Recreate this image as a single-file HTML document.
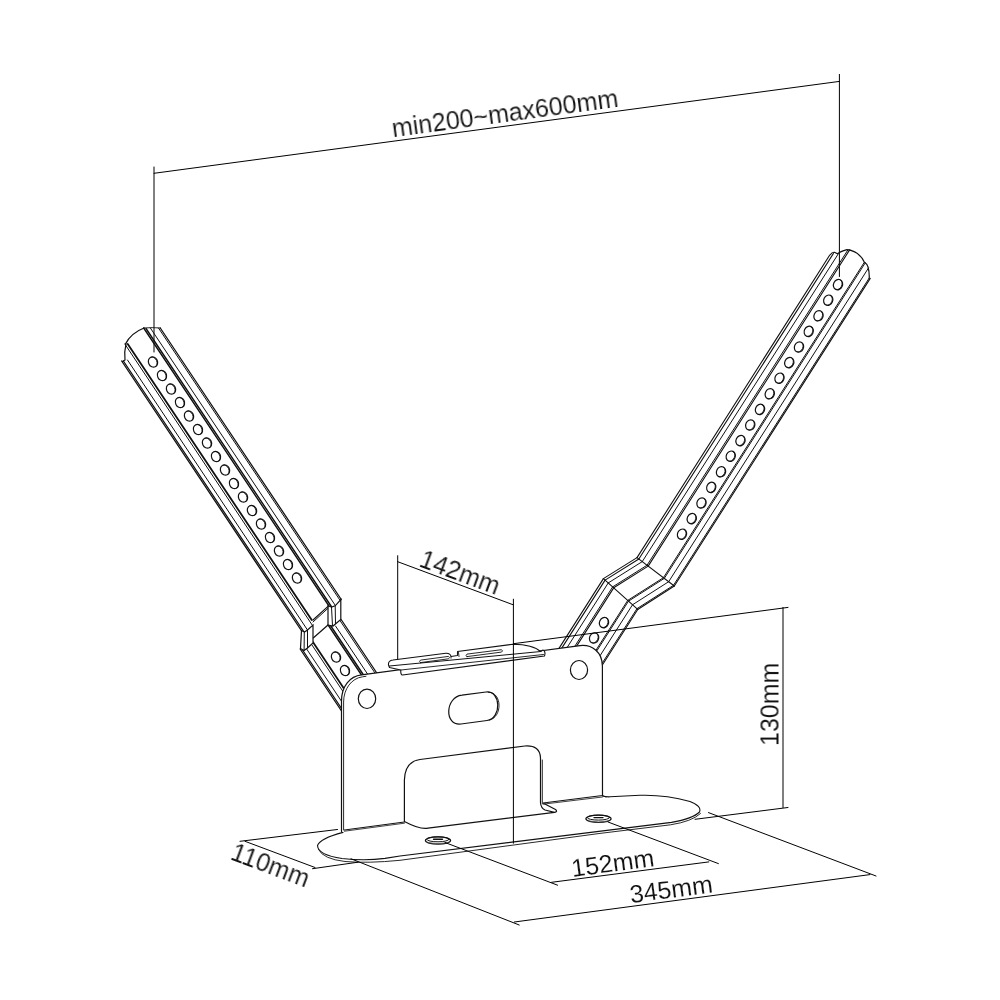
<!DOCTYPE html>
<html><head><meta charset="utf-8"><style>
html,body{margin:0;padding:0;background:#fff;width:1000px;height:1000px;overflow:hidden}
svg{position:absolute;left:0;top:0}
text{font-family:"Liberation Sans",sans-serif;fill:#111;stroke:#fff;stroke-width:0.12px}
</style></head><body>
<svg width="1000" height="1000" viewBox="0 0 1000 1000" stroke-linecap="round">
<line x1="154.00" y1="167.00" x2="154.00" y2="352.00" stroke="#000" stroke-width="1.0"/>
<line x1="154.00" y1="173.30" x2="839.40" y2="81.40" stroke="#000" stroke-width="1.0"/>
<line x1="839.40" y1="74.40" x2="839.40" y2="276.50" stroke="#000" stroke-width="1.0"/>
<line x1="121.67" y1="361.00" x2="301.33" y2="630.50" stroke="#111" stroke-width="1.3"/>
<line x1="123.37" y1="361.00" x2="303.37" y2="631.00" stroke="#111" stroke-width="1.3"/>
<line x1="127.50" y1="360.00" x2="307.50" y2="630.00" stroke="#111" stroke-width="1.0"/>
<line x1="124.83" y1="344.00" x2="312.17" y2="625.00" stroke="#111" stroke-width="1.0"/>
<line x1="127.73" y1="344.00" x2="311.73" y2="620.00" stroke="#111" stroke-width="1.8"/>
<line x1="143.67" y1="328.00" x2="329.00" y2="606.00" stroke="#111" stroke-width="1.4"/>
<line x1="146.00" y1="328.50" x2="331.33" y2="606.50" stroke="#111" stroke-width="1.4"/>
<line x1="150.37" y1="328.00" x2="335.43" y2="605.60" stroke="#111" stroke-width="1.0"/>
<line x1="158.47" y1="328.00" x2="339.80" y2="600.00" stroke="#111" stroke-width="1.0"/>
<line x1="160.27" y1="328.00" x2="341.27" y2="599.50" stroke="#111" stroke-width="1.3"/>
<path d="M125.5,344 Q131,333 144,328" fill="none" stroke="#111" stroke-width="1.3"/><path d="M144,328 Q152,327.2 160.5,328" fill="none" stroke="#111" stroke-width="0.9"/>
<path d="M126,344 Q124,352 125,360 L122.5,361.5" fill="none" stroke="#111" stroke-width="1.2"/>
<g transform="translate(153.00,362.00) rotate(-25)"><ellipse rx="4.5" ry="5.3" fill="none" stroke="#111" stroke-width="1.2"/><path d="M0.3,-5.2 A3.5,5.2 0 0 1 0.3,5.2" fill="none" stroke="#111" stroke-width="0.8"/></g>
<g transform="translate(162.00,375.50) rotate(-25)"><ellipse rx="4.5" ry="5.3" fill="none" stroke="#111" stroke-width="1.2"/><path d="M0.3,-5.2 A3.5,5.2 0 0 1 0.3,5.2" fill="none" stroke="#111" stroke-width="0.8"/></g>
<g transform="translate(171.00,389.00) rotate(-25)"><ellipse rx="4.5" ry="5.3" fill="none" stroke="#111" stroke-width="1.2"/><path d="M0.3,-5.2 A3.5,5.2 0 0 1 0.3,5.2" fill="none" stroke="#111" stroke-width="0.8"/></g>
<g transform="translate(180.00,402.50) rotate(-25)"><ellipse rx="4.5" ry="5.3" fill="none" stroke="#111" stroke-width="1.2"/><path d="M0.3,-5.2 A3.5,5.2 0 0 1 0.3,5.2" fill="none" stroke="#111" stroke-width="0.8"/></g>
<g transform="translate(189.00,416.00) rotate(-25)"><ellipse rx="4.5" ry="5.3" fill="none" stroke="#111" stroke-width="1.2"/><path d="M0.3,-5.2 A3.5,5.2 0 0 1 0.3,5.2" fill="none" stroke="#111" stroke-width="0.8"/></g>
<g transform="translate(198.00,429.50) rotate(-25)"><ellipse rx="4.5" ry="5.3" fill="none" stroke="#111" stroke-width="1.2"/><path d="M0.3,-5.2 A3.5,5.2 0 0 1 0.3,5.2" fill="none" stroke="#111" stroke-width="0.8"/></g>
<g transform="translate(207.00,443.00) rotate(-25)"><ellipse rx="4.5" ry="5.3" fill="none" stroke="#111" stroke-width="1.2"/><path d="M0.3,-5.2 A3.5,5.2 0 0 1 0.3,5.2" fill="none" stroke="#111" stroke-width="0.8"/></g>
<g transform="translate(216.00,456.50) rotate(-25)"><ellipse rx="4.5" ry="5.3" fill="none" stroke="#111" stroke-width="1.2"/><path d="M0.3,-5.2 A3.5,5.2 0 0 1 0.3,5.2" fill="none" stroke="#111" stroke-width="0.8"/></g>
<g transform="translate(225.00,470.00) rotate(-25)"><ellipse rx="4.5" ry="5.3" fill="none" stroke="#111" stroke-width="1.2"/><path d="M0.3,-5.2 A3.5,5.2 0 0 1 0.3,5.2" fill="none" stroke="#111" stroke-width="0.8"/></g>
<g transform="translate(234.00,483.50) rotate(-25)"><ellipse rx="4.5" ry="5.3" fill="none" stroke="#111" stroke-width="1.2"/><path d="M0.3,-5.2 A3.5,5.2 0 0 1 0.3,5.2" fill="none" stroke="#111" stroke-width="0.8"/></g>
<g transform="translate(243.00,497.00) rotate(-25)"><ellipse rx="4.5" ry="5.3" fill="none" stroke="#111" stroke-width="1.2"/><path d="M0.3,-5.2 A3.5,5.2 0 0 1 0.3,5.2" fill="none" stroke="#111" stroke-width="0.8"/></g>
<g transform="translate(252.00,510.50) rotate(-25)"><ellipse rx="4.5" ry="5.3" fill="none" stroke="#111" stroke-width="1.2"/><path d="M0.3,-5.2 A3.5,5.2 0 0 1 0.3,5.2" fill="none" stroke="#111" stroke-width="0.8"/></g>
<g transform="translate(261.00,524.00) rotate(-25)"><ellipse rx="4.5" ry="5.3" fill="none" stroke="#111" stroke-width="1.2"/><path d="M0.3,-5.2 A3.5,5.2 0 0 1 0.3,5.2" fill="none" stroke="#111" stroke-width="0.8"/></g>
<g transform="translate(270.00,537.50) rotate(-25)"><ellipse rx="4.5" ry="5.3" fill="none" stroke="#111" stroke-width="1.2"/><path d="M0.3,-5.2 A3.5,5.2 0 0 1 0.3,5.2" fill="none" stroke="#111" stroke-width="0.8"/></g>
<g transform="translate(279.00,551.00) rotate(-25)"><ellipse rx="4.5" ry="5.3" fill="none" stroke="#111" stroke-width="1.2"/><path d="M0.3,-5.2 A3.5,5.2 0 0 1 0.3,5.2" fill="none" stroke="#111" stroke-width="0.8"/></g>
<g transform="translate(288.00,564.50) rotate(-25)"><ellipse rx="4.5" ry="5.3" fill="none" stroke="#111" stroke-width="1.2"/><path d="M0.3,-5.2 A3.5,5.2 0 0 1 0.3,5.2" fill="none" stroke="#111" stroke-width="0.8"/></g>
<g transform="translate(297.00,578.00) rotate(-25)"><ellipse rx="4.5" ry="5.3" fill="none" stroke="#111" stroke-width="1.2"/><path d="M0.3,-5.2 A3.5,5.2 0 0 1 0.3,5.2" fill="none" stroke="#111" stroke-width="0.8"/></g>
<line x1="300.17" y1="649.00" x2="347.50" y2="720.00" stroke="#111" stroke-width="1.3"/>
<line x1="302.20" y1="649.50" x2="349.20" y2="720.00" stroke="#111" stroke-width="1.3"/>
<line x1="306.67" y1="649.00" x2="354.00" y2="720.00" stroke="#111" stroke-width="1.0"/>
<line x1="312.00" y1="645.00" x2="362.00" y2="720.00" stroke="#111" stroke-width="1.0"/>
<line x1="312.90" y1="642.00" x2="364.90" y2="720.00" stroke="#111" stroke-width="1.8"/>
<line x1="328.17" y1="625.00" x2="391.50" y2="720.00" stroke="#111" stroke-width="1.4"/>
<line x1="330.50" y1="625.50" x2="393.50" y2="720.00" stroke="#111" stroke-width="1.4"/>
<line x1="335.53" y1="626.00" x2="398.20" y2="720.00" stroke="#111" stroke-width="1.0"/>
<line x1="339.63" y1="620.00" x2="406.30" y2="720.00" stroke="#111" stroke-width="1.0"/>
<line x1="341.10" y1="619.50" x2="408.10" y2="720.00" stroke="#111" stroke-width="1.3"/>
<g transform="translate(336.00,657.00) rotate(-25)"><ellipse rx="4.5" ry="5.3" fill="none" stroke="#111" stroke-width="1.2"/><path d="M0.3,-5.2 A3.5,5.2 0 0 1 0.3,5.2" fill="none" stroke="#111" stroke-width="0.8"/></g>
<g transform="translate(345.00,670.50) rotate(-25)"><ellipse rx="4.5" ry="5.3" fill="none" stroke="#111" stroke-width="1.2"/><path d="M0.3,-5.2 A3.5,5.2 0 0 1 0.3,5.2" fill="none" stroke="#111" stroke-width="0.8"/></g>
<path d="M301.5,630.5 L304.5,632 L307.5,630 L313,625 L313,643 L307.5,648 L304,650.5 L300.5,648.5 Z" fill="#fff" stroke="#111" stroke-width="1.2"/>
<line x1="304.30" y1="632.00" x2="304.10" y2="650.30" stroke="#111" stroke-width="1.0"/>
<line x1="307.50" y1="630.00" x2="307.50" y2="648.00" stroke="#111" stroke-width="1.0"/>
<path d="M328,605.8 L331.5,607 L335.2,605.8 L340.8,599.5 L340.8,619.5 L333,626 L328,625 Z" fill="#fff" stroke="#111" stroke-width="1.2"/>
<line x1="331.50" y1="607.00" x2="332.50" y2="625.80" stroke="#111" stroke-width="1.0"/>
<line x1="335.20" y1="605.80" x2="335.50" y2="623.50" stroke="#111" stroke-width="1.0"/>
<line x1="313.00" y1="620.00" x2="328.00" y2="606.40" stroke="#111" stroke-width="1.2"/>
<line x1="313.00" y1="622.00" x2="328.00" y2="608.30" stroke="#111" stroke-width="1.0"/>
<line x1="313.50" y1="637.80" x2="328.00" y2="625.00" stroke="#111" stroke-width="1.2"/>
<line x1="829.76" y1="255.00" x2="637.02" y2="557.60" stroke="#111" stroke-width="1.1"/>
<line x1="637.02" y1="557.60" x2="603.42" y2="578.60" stroke="#111" stroke-width="1.1"/>
<line x1="603.42" y1="578.60" x2="552.46" y2="658.60" stroke="#111" stroke-width="1.1"/>
<line x1="833.41" y1="253.50" x2="638.84" y2="558.98" stroke="#111" stroke-width="1.1"/>
<line x1="638.84" y1="558.98" x2="605.09" y2="580.10" stroke="#111" stroke-width="1.1"/>
<line x1="605.09" y1="580.10" x2="554.13" y2="660.10" stroke="#111" stroke-width="1.1"/>
<line x1="838.32" y1="253.80" x2="642.27" y2="561.60" stroke="#111" stroke-width="1.0"/>
<line x1="642.27" y1="561.60" x2="608.25" y2="582.94" stroke="#111" stroke-width="1.0"/>
<line x1="608.25" y1="582.94" x2="557.29" y2="662.94" stroke="#111" stroke-width="1.0"/>
<line x1="847.97" y1="249.80" x2="647.05" y2="565.25" stroke="#111" stroke-width="1.0"/>
<line x1="647.05" y1="565.25" x2="612.64" y2="586.89" stroke="#111" stroke-width="1.0"/>
<line x1="612.64" y1="586.89" x2="561.69" y2="666.89" stroke="#111" stroke-width="1.0"/>
<line x1="849.80" y1="249.60" x2="648.19" y2="566.12" stroke="#111" stroke-width="1.1"/>
<line x1="648.19" y1="566.12" x2="613.69" y2="587.84" stroke="#111" stroke-width="1.1"/>
<line x1="613.69" y1="587.84" x2="562.74" y2="667.84" stroke="#111" stroke-width="1.1"/>
<line x1="864.18" y1="262.50" x2="663.40" y2="577.72" stroke="#111" stroke-width="1.0"/>
<line x1="663.40" y1="577.72" x2="627.68" y2="600.42" stroke="#111" stroke-width="1.0"/>
<line x1="627.68" y1="600.42" x2="576.73" y2="680.42" stroke="#111" stroke-width="1.0"/>
<line x1="865.29" y1="262.80" x2="664.28" y2="578.39" stroke="#111" stroke-width="1.0"/>
<line x1="664.28" y1="578.39" x2="628.49" y2="601.14" stroke="#111" stroke-width="1.0"/>
<line x1="628.49" y1="601.14" x2="577.53" y2="681.14" stroke="#111" stroke-width="1.0"/>
<line x1="868.48" y1="268.00" x2="668.65" y2="581.72" stroke="#111" stroke-width="1.0"/>
<line x1="668.65" y1="581.72" x2="632.51" y2="604.76" stroke="#111" stroke-width="1.0"/>
<line x1="632.51" y1="604.76" x2="581.55" y2="684.76" stroke="#111" stroke-width="1.0"/>
<line x1="869.21" y1="278.00" x2="673.43" y2="585.37" stroke="#111" stroke-width="1.0"/>
<line x1="673.43" y1="585.37" x2="636.90" y2="608.71" stroke="#111" stroke-width="1.0"/>
<line x1="636.90" y1="608.71" x2="585.95" y2="688.71" stroke="#111" stroke-width="1.0"/>
<line x1="870.25" y1="278.40" x2="674.31" y2="586.03" stroke="#111" stroke-width="1.1"/>
<line x1="674.31" y1="586.03" x2="637.71" y2="609.43" stroke="#111" stroke-width="1.1"/>
<line x1="637.71" y1="609.43" x2="586.75" y2="689.43" stroke="#111" stroke-width="1.1"/>
<line x1="637.02" y1="557.60" x2="674.31" y2="586.03" stroke="#111" stroke-width="1.1"/>
<line x1="603.42" y1="578.60" x2="637.71" y2="609.43" stroke="#111" stroke-width="1.1"/>
<path d="M830.5,254.5 Q832,252 834.5,252.3 L837.5,253.8 Q840,251.5 847,249.6 Q859,251 864.4,262.2 Q867.5,264 868,267 Q869.5,272 869.2,278.4" fill="none" stroke="#111" stroke-width="1.2"/>
<g transform="translate(838.00,284.60) rotate(25)"><ellipse rx="4.5" ry="5.3" fill="none" stroke="#111" stroke-width="1.2"/><path d="M0.3,-5.2 A3.5,5.2 0 0 1 0.3,5.2" fill="none" stroke="#111" stroke-width="0.8"/></g>
<g transform="translate(828.25,300.20) rotate(25)"><ellipse rx="4.5" ry="5.3" fill="none" stroke="#111" stroke-width="1.2"/><path d="M0.3,-5.2 A3.5,5.2 0 0 1 0.3,5.2" fill="none" stroke="#111" stroke-width="0.8"/></g>
<g transform="translate(818.50,315.80) rotate(25)"><ellipse rx="4.5" ry="5.3" fill="none" stroke="#111" stroke-width="1.2"/><path d="M0.3,-5.2 A3.5,5.2 0 0 1 0.3,5.2" fill="none" stroke="#111" stroke-width="0.8"/></g>
<g transform="translate(808.75,331.40) rotate(25)"><ellipse rx="4.5" ry="5.3" fill="none" stroke="#111" stroke-width="1.2"/><path d="M0.3,-5.2 A3.5,5.2 0 0 1 0.3,5.2" fill="none" stroke="#111" stroke-width="0.8"/></g>
<g transform="translate(799.00,347.00) rotate(25)"><ellipse rx="4.5" ry="5.3" fill="none" stroke="#111" stroke-width="1.2"/><path d="M0.3,-5.2 A3.5,5.2 0 0 1 0.3,5.2" fill="none" stroke="#111" stroke-width="0.8"/></g>
<g transform="translate(789.25,362.60) rotate(25)"><ellipse rx="4.5" ry="5.3" fill="none" stroke="#111" stroke-width="1.2"/><path d="M0.3,-5.2 A3.5,5.2 0 0 1 0.3,5.2" fill="none" stroke="#111" stroke-width="0.8"/></g>
<g transform="translate(779.50,378.20) rotate(25)"><ellipse rx="4.5" ry="5.3" fill="none" stroke="#111" stroke-width="1.2"/><path d="M0.3,-5.2 A3.5,5.2 0 0 1 0.3,5.2" fill="none" stroke="#111" stroke-width="0.8"/></g>
<g transform="translate(769.75,393.80) rotate(25)"><ellipse rx="4.5" ry="5.3" fill="none" stroke="#111" stroke-width="1.2"/><path d="M0.3,-5.2 A3.5,5.2 0 0 1 0.3,5.2" fill="none" stroke="#111" stroke-width="0.8"/></g>
<g transform="translate(760.00,409.40) rotate(25)"><ellipse rx="4.5" ry="5.3" fill="none" stroke="#111" stroke-width="1.2"/><path d="M0.3,-5.2 A3.5,5.2 0 0 1 0.3,5.2" fill="none" stroke="#111" stroke-width="0.8"/></g>
<g transform="translate(750.25,425.00) rotate(25)"><ellipse rx="4.5" ry="5.3" fill="none" stroke="#111" stroke-width="1.2"/><path d="M0.3,-5.2 A3.5,5.2 0 0 1 0.3,5.2" fill="none" stroke="#111" stroke-width="0.8"/></g>
<g transform="translate(740.50,440.60) rotate(25)"><ellipse rx="4.5" ry="5.3" fill="none" stroke="#111" stroke-width="1.2"/><path d="M0.3,-5.2 A3.5,5.2 0 0 1 0.3,5.2" fill="none" stroke="#111" stroke-width="0.8"/></g>
<g transform="translate(730.75,456.20) rotate(25)"><ellipse rx="4.5" ry="5.3" fill="none" stroke="#111" stroke-width="1.2"/><path d="M0.3,-5.2 A3.5,5.2 0 0 1 0.3,5.2" fill="none" stroke="#111" stroke-width="0.8"/></g>
<g transform="translate(721.00,471.80) rotate(25)"><ellipse rx="4.5" ry="5.3" fill="none" stroke="#111" stroke-width="1.2"/><path d="M0.3,-5.2 A3.5,5.2 0 0 1 0.3,5.2" fill="none" stroke="#111" stroke-width="0.8"/></g>
<g transform="translate(711.25,487.40) rotate(25)"><ellipse rx="4.5" ry="5.3" fill="none" stroke="#111" stroke-width="1.2"/><path d="M0.3,-5.2 A3.5,5.2 0 0 1 0.3,5.2" fill="none" stroke="#111" stroke-width="0.8"/></g>
<g transform="translate(701.50,503.00) rotate(25)"><ellipse rx="4.5" ry="5.3" fill="none" stroke="#111" stroke-width="1.2"/><path d="M0.3,-5.2 A3.5,5.2 0 0 1 0.3,5.2" fill="none" stroke="#111" stroke-width="0.8"/></g>
<g transform="translate(691.75,518.60) rotate(25)"><ellipse rx="4.5" ry="5.3" fill="none" stroke="#111" stroke-width="1.2"/><path d="M0.3,-5.2 A3.5,5.2 0 0 1 0.3,5.2" fill="none" stroke="#111" stroke-width="0.8"/></g>
<g transform="translate(682.00,534.20) rotate(25)"><ellipse rx="4.5" ry="5.3" fill="none" stroke="#111" stroke-width="1.2"/><path d="M0.3,-5.2 A3.5,5.2 0 0 1 0.3,5.2" fill="none" stroke="#111" stroke-width="0.8"/></g>
<g transform="translate(604.00,622.60) rotate(25)"><ellipse rx="4.5" ry="5.3" fill="none" stroke="#111" stroke-width="1.2"/><path d="M0.3,-5.2 A3.5,5.2 0 0 1 0.3,5.2" fill="none" stroke="#111" stroke-width="0.8"/></g>
<g transform="translate(594.10,638.00) rotate(25)"><ellipse rx="4.5" ry="5.3" fill="none" stroke="#111" stroke-width="1.2"/><path d="M0.3,-5.2 A3.5,5.2 0 0 1 0.3,5.2" fill="none" stroke="#111" stroke-width="0.8"/></g>
<line x1="513.40" y1="643.70" x2="788.00" y2="607.40" stroke="#000" stroke-width="1.0"/>
<path d="M343,832.4 Q320,838.5 317.5,845.5 Q318,855 342,858.5 Q365,861 385,858.4 L400,856 L671.5,822.4 Q693,818.5 699.5,812 Q702,806 690,801.5 Q665,794.5 640,795.3 L610,796.8 Q605,797 602.5,795.8 Z" fill="#fff" stroke="none"/>
<path d="M343,832.4 Q320,838.5 317.5,845.5 Q318,855 342,858.5 Q365,861 385,858.4 L400,856 L671.5,822.4 Q693,818.5 699.5,812 Q702,806 690,801.5 Q665,794.5 640,795.3 L610,796.8 Q605,797 602.5,795.8" fill="none" stroke="#111" stroke-width="1.1"/>
<path d="M318.5,849.5 Q323,859 345,861.5 Q368,863.5 400,860.3 L600,833.4 L670.5,824.8 Q692,821.5 700.5,813.5" fill="none" stroke="#111" stroke-width="0.9"/>
<path d="M341.5,831.5 L341.5,701 C341.5,686 350,676.2 361.5,674.9 L580,645.6 C592,644.2 602.2,652 602.4,666 L602.5,795.5 L543,803 L555.5,809.5 Q558,811.5 554.5,812.3 L428,828.2 Q420,829.8 404.4,821.5 L404.4,780 Q405,761.5 420,759.5 L525,746 Q540,745 540.5,758 L540.5,803 Q541,808 545,810 L554.5,812.3" fill="#fff" stroke="#111" stroke-width="1.2" stroke-linejoin="round"/>
<path d="M343.6,830 L343.6,702 C343.6,689 351.5,678.3 362.5,676.8 L366,676.3" fill="none" stroke="#111" stroke-width="0.9"/>
<line x1="344.40" y1="830.00" x2="404.40" y2="822.00" stroke="#111" stroke-width="1.0"/>
<line x1="344.40" y1="831.20" x2="404.40" y2="823.20" stroke="#111" stroke-width="0.8"/>
<line x1="543.00" y1="804.20" x2="602.50" y2="797.00" stroke="#111" stroke-width="0.8"/>
<line x1="602.50" y1="795.80" x2="606.00" y2="797.00" stroke="#111" stroke-width="1.0"/>
<ellipse cx="367" cy="698.8" rx="8.7" ry="9.7" fill="none" stroke="#111" stroke-width="1.2"/>
<ellipse cx="579" cy="670" rx="8.6" ry="9.5" fill="none" stroke="#111" stroke-width="1.2"/>
<path d="M462,695.2 L486,692 C501,690 502,718.5 487,720.5 L461,724 C444,726 445,697 462,695.2 Z" fill="none" stroke="#111" stroke-width="1.2"/>
<path d="M488.5,692.3 C502.5,692 502.5,717.5 489.5,720" fill="none" stroke="#111" stroke-width="0.9"/>
<line x1="542.30" y1="760.00" x2="542.30" y2="803.50" stroke="#111" stroke-width="0.9"/>
<path d="M388.5,665 Q388,660.5 393,660 L445.8,653.2 Q450.5,653 451,656.5 L457.5,655.5 L457.5,651.5 L513,644.2 Q533,644.5 540.5,651.5 L543,650 Q546,651 544.5,656 L402.5,675 Q400.5,675 400.8,670 L389.5,667.5 Z" fill="#fff" stroke="#111" stroke-width="1.1" stroke-linejoin="round"/>
<line x1="389.50" y1="666.00" x2="541.00" y2="651.50" stroke="#111" stroke-width="1.0"/>
<line x1="401.00" y1="670.00" x2="543.50" y2="654.50" stroke="#111" stroke-width="0.9"/>
<line x1="451.00" y1="656.50" x2="451.00" y2="658.20" stroke="#111" stroke-width="0.9"/>
<line x1="458.50" y1="652.50" x2="459.00" y2="656.50" stroke="#111" stroke-width="0.9"/>
<path d="M420.5,662.6 L448.5,658.8 Q450.5,657.6 448.5,656.4 L420.5,660.1 Q418.5,661.3 420.5,662.6 Z" fill="none" stroke="#111" stroke-width="0.9"/>
<path d="M467,656.6 L501.5,652.1 Q503.5,650.9 501.5,649.7 L467,654.1 Q465,655.4 467,656.6 Z" fill="none" stroke="#111" stroke-width="0.9"/>
<ellipse cx="438" cy="840.5" rx="12.6" ry="3.7" fill="#fff" stroke="#111" stroke-width="1.2"/>
<ellipse cx="438" cy="839.3" rx="11.2" ry="2.5" fill="none" stroke="#111" stroke-width="1.0"/>
<path d="M433.5,839.3 L442.5,839.3" stroke="#111" stroke-width="1.4"/>
<path d="M428,842.7 Q438,844.7 448,842.7" fill="none" stroke="#555" stroke-width="0.8"/>
<ellipse cx="598.5" cy="818.8" rx="12.6" ry="3.7" fill="#fff" stroke="#111" stroke-width="1.2"/>
<ellipse cx="598.5" cy="817.5999999999999" rx="11.2" ry="2.5" fill="none" stroke="#111" stroke-width="1.0"/>
<path d="M594.0,817.5999999999999 L603.0,817.5999999999999" stroke="#111" stroke-width="1.4"/>
<path d="M588.5,821.0 Q598.5,823.0 608.5,821.0" fill="none" stroke="#555" stroke-width="0.8"/>
<line x1="397.70" y1="555.70" x2="397.70" y2="659.00" stroke="#000" stroke-width="1.0"/>
<line x1="397.70" y1="561.70" x2="513.20" y2="604.80" stroke="#000" stroke-width="1.0"/>
<line x1="513.40" y1="599.20" x2="513.40" y2="843.20" stroke="#000" stroke-width="1.0"/>
<line x1="783.00" y1="607.40" x2="783.00" y2="807.50" stroke="#000" stroke-width="1.0"/>
<line x1="695.00" y1="819.30" x2="788.00" y2="807.50" stroke="#000" stroke-width="1.0"/>
<line x1="240.00" y1="841.30" x2="337.50" y2="829.50" stroke="#000" stroke-width="1.0"/>
<line x1="245.00" y1="841.30" x2="315.00" y2="867.50" stroke="#000" stroke-width="1.0"/>
<line x1="312.50" y1="868.70" x2="358.00" y2="862.20" stroke="#000" stroke-width="1.0"/>
<line x1="351.00" y1="858.80" x2="519.20" y2="925.00" stroke="#000" stroke-width="1.0"/>
<line x1="514.40" y1="922.00" x2="870.00" y2="874.60" stroke="#000" stroke-width="1.0"/>
<line x1="708.50" y1="812.60" x2="876.00" y2="876.00" stroke="#000" stroke-width="1.0"/>
<line x1="445.00" y1="842.50" x2="557.60" y2="885.20" stroke="#000" stroke-width="1.0"/>
<line x1="551.60" y1="882.30" x2="708.80" y2="861.90" stroke="#000" stroke-width="1.0"/>
<line x1="608.00" y1="822.00" x2="718.40" y2="863.60" stroke="#000" stroke-width="1.0"/>
<g opacity="0.995"><text x="0" y="0" font-size="25.1" transform="translate(393.1,137.2) rotate(-7.7)">min200~max600mm</text>
<text x="0" y="0" font-size="25" transform="translate(418,566) rotate(20.4)">142mm</text>
<text x="0" y="0" font-size="25" transform="translate(572.5,877) rotate(-7.5)">152mm</text>
<text x="0" y="0" font-size="25" transform="translate(631,903.2) rotate(-7.6)">345mm</text>
<text x="0" y="0" font-size="25" transform="translate(778.5,746) rotate(-90)">130mm</text>
<text x="0" y="0" font-size="25" transform="translate(229.3,859) rotate(20.6)">110mm</text></g>
</svg>
</body></html>
